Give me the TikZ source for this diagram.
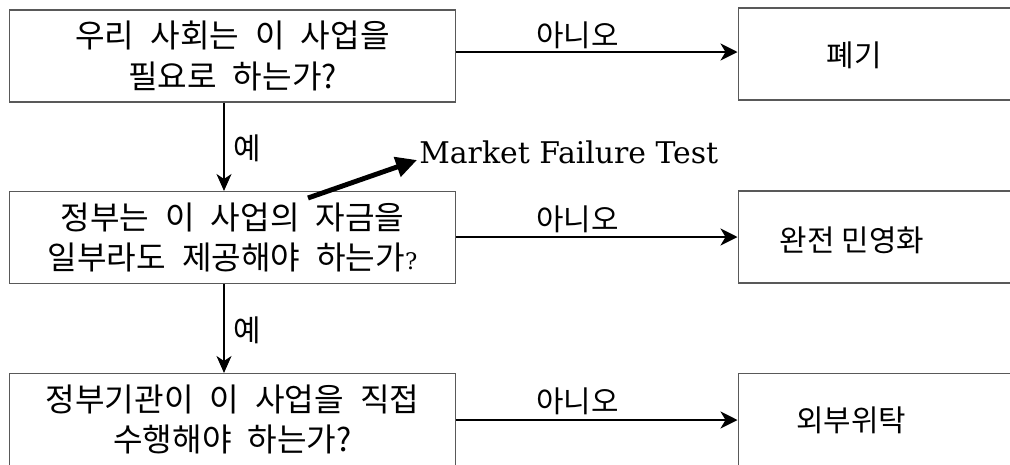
\documentclass[tikz,border=0pt]{standalone}
\usepackage{fontspec}
\usetikzlibrary{arrows.meta}
\newfontfamily\krfont{Noto Sans CJK KR}
\newfontfamily\serfont{DejaVu Serif}
\newcommand{\qfont}{\krfont\fontsize{18.3}{23}\selectfont\spaceskip=0.5em plus 0.1em\relax}
\tikzset{
  qbox/.style={draw=black!65, line width=0.6pt, minimum width=8.94cm, minimum height=1.84cm,
    align=center, inner sep=0pt, font=\qfont},
  abox/.style={draw=black!65, line width=0.6pt, minimum width=6.0cm, minimum height=1.84cm, inner sep=0pt},
  atext/.style={inner sep=0pt, font=\krfont\fontsize{17}{23}\selectfont},
  lbl/.style={inner sep=0pt, font=\krfont\fontsize{17}{23}\selectfont},
  harrow/.style={line width=1.3pt, -{Stealth[length=0.34cm, width=0.34cm, inset=0.1cm]}},
  varrow/.style={line width=1.0pt, -{Stealth[length=0.34cm, width=0.30cm, inset=0.1cm]}},
  bigarrow/.style={line width=2.8pt, -{Triangle[length=0.42cm, width=0.40cm]}},
}
\begin{document}
\begin{tikzpicture}[x=0.02cm, y=-0.02cm]
  \clip (0,0) rectangle (1010,464);
  \fill[white] (0,0) rectangle (1010,464);
  % question boxes
  \node[qbox] (q1) at (232.5,56) {우리 사회는 이 사업을\\필요로 하는가?};
  \node[qbox] (q2) at (232.5,237.5) {정부는 이 사업의 자금을\\일부라도 제공해야 하는가{\serfont\fontsize{13}{13}\selectfont ?}};
  \node[qbox] (q3) at (232.5,419.5) {정부기관이 이 사업을 직접\\수행해야 하는가?};
  % answer boxes (extend past right edge)
  \node[abox] (r1) at (888,54) {};
  \node[abox] (r2) at (888,237) {};
  \node[abox] (r3) at (888,419.5) {};
  \node[atext] (t1) at (854,55) {폐기};
  \node[atext] (t2) at (852,240) {완전 민영화};
  \node[atext] (t3) at (851,420) {외부위탁};
  % horizontal arrows
  \draw[harrow] (q1.east |- 0,52) -- (r1.west |- 0,52)
    node[lbl, pos=0.43, yshift=0.33cm] {아니오};
  \draw[harrow] (q2.east |- 0,237) -- (r2.west |- 0,237)
    node[lbl, pos=0.43, yshift=0.36cm] {아니오};
  \draw[harrow] (q3.east |- 0,420) -- (r3.west |- 0,420)
    node[lbl, pos=0.43, yshift=0.38cm] {아니오};
  % vertical arrows
  \draw[varrow] (q1.south -| 224,0) -- (q2.north -| 224,0)
    node[lbl, pos=0.52, right=0.18cm] {예};
  \draw[varrow] (q2.south -| 224,0) -- (q3.north -| 224,0)
    node[lbl, pos=0.52, right=0.18cm] {예};
  % market failure test
  \node[inner sep=0pt, anchor=base west, font=\serfont\fontsize{17}{20}\selectfont] (mft) at (419,163) {Market Failure Test};
  \coordinate (mfs) at (308,198);
  \draw[bigarrow] (mfs) -- ([shift={(-2,-3)}]mft.base west);
\end{tikzpicture}
\end{document}
